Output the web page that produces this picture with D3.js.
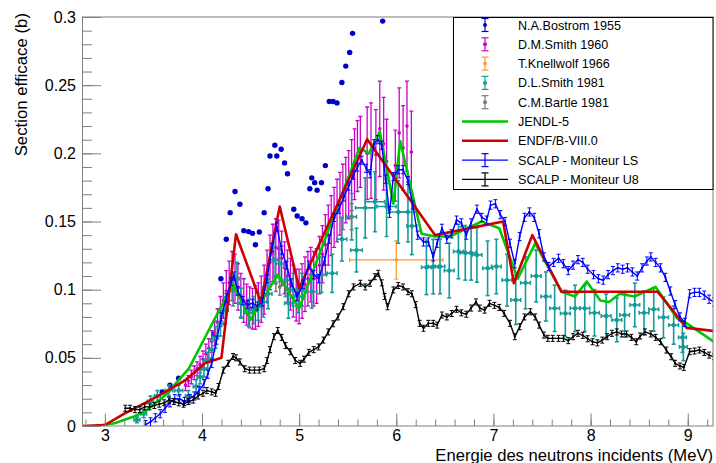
<!DOCTYPE html>
<html><head><meta charset="utf-8">
<script src="https://cdn.jsdelivr.net/npm/d3@7"></script>
<style>body{margin:0;background:#fff} text{font-family:"Liberation Sans",Arial,Helvetica,sans-serif}</style>
</head><body><svg id="c" width="716" height="463"></svg>
<script>
// ---------------- DATA ----------------
const seriesNames = ["N.A.Bostrom 1955","D.M.Smith 1960","T.Knellwolf 1966","D.L.Smith 1981","C.M.Bartle 1981","JENDL-5","ENDF/B-VIII.0","SCALP - Moniteur LS","SCALP - Moniteur U8"];
const xMajorTicks = [3,4,5,6,7,8,9];
const yMajorTicks = [0,0.05,0.1,0.15,0.2,0.25,0.3];

// [E (MeV), sigma (b)]
const bostrom = [[3.59,0.025],[3.67,0.030],[3.76,0.035],[4.12,0.0675],[4.195,0.108],[4.25,0.137],[4.29,0.1565],[4.34,0.172],[4.39,0.1626],[4.43,0.1433],[4.48,0.1426],[4.52,0.1413],[4.55,0.133],[4.59,0.1423],[4.64,0.1565],[4.68,0.174],[4.70,0.198],[4.75,0.206],[4.77,0.198],[4.815,0.203],[4.85,0.193],[4.88,0.185],[4.945,0.159],[4.98,0.154],[5.03,0.152],[5.07,0.149],[5.11,0.174],[5.13,0.182],[5.16,0.1785],[5.185,0.173],[5.23,0.1785],[5.27,0.191],[5.31,0.238],[5.35,0.238],[5.39,0.237],[5.44,0.252],[5.48,0.264],[5.52,0.274],[5.55,0.288],[5.86,0.297]];

// [E, sigma, dSigma]
const dmSmith = [[3.83,0.030,0.004],[3.86,0.033,0.004],[3.89,0.036,0.005],[3.92,0.039,0.005],[3.95,0.042,0.005],[3.98,0.045,0.006],[4.01,0.049,0.006],[4.04,0.053,0.007],[4.07,0.057,0.007],[4.10,0.062,0.008],[4.13,0.068,0.009],[4.16,0.076,0.010],[4.19,0.084,0.011],[4.22,0.092,0.013],[4.25,0.099,0.015],[4.28,0.105,0.016],[4.31,0.110,0.018],[4.34,0.108,0.018],[4.37,0.102,0.017],[4.40,0.096,0.016],[4.43,0.092,0.016],[4.46,0.089,0.015],[4.49,0.087,0.015],[4.52,0.086,0.015],[4.55,0.087,0.016],[4.58,0.089,0.016],[4.61,0.093,0.017],[4.64,0.100,0.018],[4.67,0.110,0.019],[4.70,0.120,0.020],[4.73,0.127,0.021],[4.76,0.131,0.021],[4.79,0.130,0.021],[4.82,0.123,0.020],[4.85,0.116,0.019],[4.88,0.110,0.019],[4.91,0.104,0.019],[4.94,0.099,0.019],[4.97,0.096,0.019],[5.00,0.095,0.020],[5.03,0.099,0.020],[5.06,0.104,0.020],[5.09,0.108,0.020],[5.12,0.111,0.020],[5.15,0.108,0.020],[5.18,0.110,0.020],[5.21,0.118,0.021],[5.24,0.126,0.021],[5.27,0.133,0.022],[5.30,0.140,0.022],[5.33,0.147,0.022],[5.36,0.153,0.022],[5.39,0.158,0.023],[5.42,0.163,0.023],[5.45,0.168,0.024],[5.48,0.173,0.024],[5.51,0.177,0.025],[5.54,0.184,0.026],[5.57,0.192,0.026],[5.60,0.198,0.026],[5.63,0.201,0.026],[5.70,0.200,0.034],[5.74,0.202,0.035],[5.79,0.199,0.033],[5.83,0.218,0.035],[5.87,0.207,0.034],[5.90,0.194,0.031],[5.99,0.191,0.026],[6.03,0.215,0.033],[6.07,0.204,0.031],[6.11,0.220,0.033],[6.155,0.201,0.030]];

// [E, sigma, dE, dSigma]
const knellwolf = [[6.0,0.1218,0.48,0.014]];

const dlSmith = [[3.33,0.0045,0.03,0.002],[3.40,0.009,0.03,0.003],[3.47,0.018,0.03,0.004],[3.54,0.022,0.03,0.004],[3.66,0.026,0.04,0.004],[3.76,0.026,0.04,0.004],[3.86,0.022,0.03,0.004],[3.94,0.029,0.03,0.005],[3.98,0.036,0.03,0.005],[4.02,0.042,0.03,0.006],[4.06,0.048,0.03,0.006],[4.10,0.056,0.03,0.007],[4.14,0.065,0.03,0.008],[4.19,0.075,0.03,0.009],[4.24,0.085,0.03,0.010],[4.32,0.100,0.03,0.012],[4.36,0.108,0.03,0.012],[4.40,0.090,0.03,0.011],[4.48,0.083,0.04,0.010],[4.53,0.085,0.04,0.010],[4.58,0.0875,0.04,0.010],[4.63,0.091,0.04,0.011],[4.68,0.097,0.04,0.011],[4.74,0.122,0.04,0.013],[4.80,0.119,0.04,0.013],[4.86,0.107,0.04,0.012],[4.89,0.090,0.04,0.011],[4.94,0.100,0.04,0.012],[4.99,0.095,0.04,0.012],[5.03,0.100,0.05,0.012],[5.13,0.0985,0.05,0.012],[5.23,0.111,0.05,0.013],[5.34,0.112,0.05,0.014],[5.44,0.137,0.05,0.016],[5.54,0.1535,0.05,0.017],[5.59,0.129,0.06,0.016],[5.68,0.160,0.10,0.022],[5.78,0.1645,0.10,0.022],[5.90,0.161,0.10,0.022],[6.02,0.157,0.10,0.023],[6.12,0.157,0.10,0.022],[6.16,0.1467,0.05,0.021],[6.31,0.1164,0.05,0.020],[6.38,0.1169,0.05,0.020],[6.45,0.117,0.05,0.020],[6.545,0.114,0.05,0.020],[6.64,0.128,0.05,0.020],[6.71,0.127,0.05,0.020],[6.77,0.127,0.05,0.020],[6.83,0.1255,0.05,0.020],[6.94,0.1157,0.05,0.020],[7.03,0.117,0.05,0.020],[7.14,0.107,0.05,0.019],[7.23,0.0924,0.05,0.018],[7.33,0.105,0.05,0.019],[7.44,0.110,0.05,0.019],[7.54,0.095,0.05,0.018],[7.63,0.0863,0.05,0.017],[7.74,0.0826,0.05,0.017],[7.84,0.0863,0.05,0.017],[7.94,0.0863,0.05,0.017],[8.04,0.083,0.05,0.017],[8.16,0.0807,0.05,0.016],[8.27,0.0778,0.05,0.016],[8.35,0.0814,0.05,0.016],[8.455,0.0888,0.05,0.016],[8.55,0.083,0.05,0.016],[8.65,0.0856,0.05,0.016],[8.75,0.0797,0.05,0.015],[8.855,0.074,0.05,0.014],[8.945,0.065,0.04,0.011],[8.955,0.058,0.04,0.010]];

// [E, sigma, dSigma]
const bartle = [[4.76,0.1047,0.006],[4.80,0.102,0.006],[5.54,0.1535,0.0095]];

// [E, sigma]
const jendl5 = [[2.90,0],[3.10,0.002],[3.30,0.007],[3.42,0.011],[3.625,0.0227],[3.866,0.0423],[4.088,0.0728],[4.20,0.088],[4.32,0.104],[4.50,0.078],[4.78,0.111],[5.00,0.086],[5.15,0.115],[5.62,0.204],[5.72,0.200],[5.83,0.216],[5.97,0.163],[6.04,0.209],[6.26,0.141],[6.40,0.139],[6.55,0.139],[6.88,0.150],[7.06,0.145],[7.25,0.108],[7.43,0.134],[7.70,0.0985],[7.84,0.095],[7.96,0.106],[8.10,0.092],[8.19,0.091],[8.30,0.097],[8.45,0.095],[8.67,0.102],[8.89,0.079],[8.99,0.0753],[9.27,0.0618]];

const endf8 = [[2.77,0],[3.00,0.0007],[3.21,0.0095],[3.416,0.0169],[3.62,0.0249],[3.83,0.0337],[4.03,0.046],[4.20,0.050],[4.35,0.1406],[4.606,0.0907],[4.80,0.161],[5.00,0.101],[5.70,0.2103],[6.40,0.140],[7.10,0.150],[7.21,0.1047],[7.40,0.140],[7.70,0.0985],[8.69,0.0985],[8.99,0.072],[9.27,0.0697]];

// [E, sigma]  (SCALP, small uncertainties)
const scalpLS = [[3.42,0.001],[3.47,0.003],[3.52,0.006],[3.57,0.009],[3.62,0.013],[3.67,0.017],[3.72,0.020],[3.77,0.020],[3.82,0.018],[3.87,0.020],[3.92,0.022],[3.97,0.026],[4.02,0.031],[4.06,0.038],[4.10,0.046],[4.15,0.063],[4.20,0.080],[4.25,0.094],[4.30,0.106],[4.33,0.110],[4.37,0.099],[4.42,0.092],[4.47,0.089],[4.52,0.090],[4.57,0.088],[4.62,0.091],[4.67,0.108],[4.72,0.131],[4.77,0.146],[4.82,0.129],[4.87,0.118],[4.92,0.105],[4.98,0.095],[5.04,0.104],[5.10,0.118],[5.15,0.111],[5.20,0.108],[5.26,0.121],[5.31,0.137],[5.36,0.153],[5.41,0.159],[5.46,0.168],[5.51,0.176],[5.56,0.184],[5.60,0.190],[5.645,0.195],[5.69,0.189],[5.73,0.185],[5.77,0.207],[5.81,0.210],[5.85,0.206],[5.89,0.181],[5.93,0.156],[5.97,0.183],[6.02,0.188],[6.07,0.188],[6.12,0.180],[6.17,0.162],[6.22,0.140],[6.28,0.135],[6.33,0.135],[6.38,0.124],[6.42,0.134],[6.47,0.145],[6.52,0.137],[6.57,0.141],[6.62,0.151],[6.67,0.149],[6.72,0.140],[6.77,0.149],[6.83,0.159],[6.88,0.153],[6.93,0.151],[6.97,0.162],[7.02,0.163],[7.07,0.155],[7.12,0.150],[7.17,0.134],[7.22,0.119],[7.27,0.139],[7.32,0.153],[7.37,0.157],[7.42,0.153],[7.47,0.141],[7.52,0.124],[7.57,0.117],[7.62,0.120],[7.67,0.123],[7.72,0.119],[7.77,0.114],[7.82,0.118],[7.87,0.122],[7.92,0.120],[7.97,0.115],[8.03,0.111],[8.08,0.108],[8.13,0.107],[8.18,0.111],[8.23,0.114],[8.28,0.116],[8.33,0.115],[8.38,0.116],[8.43,0.113],[8.48,0.110],[8.53,0.116],[8.58,0.121],[8.62,0.124],[8.67,0.120],[8.72,0.116],[8.77,0.109],[8.82,0.099],[8.87,0.089],[8.92,0.080],[8.97,0.076],[9.02,0.097],[9.07,0.098],[9.12,0.098],[9.17,0.096],[9.22,0.093],[9.27,0.091]];

const scalpU8 = [[3.21,0.013],[3.26,0.013],[3.31,0.012],[3.36,0.012],[3.41,0.014],[3.46,0.014],[3.51,0.015],[3.56,0.016],[3.61,0.017],[3.66,0.019],[3.71,0.018],[3.76,0.017],[3.81,0.016],[3.86,0.018],[3.91,0.019],[3.96,0.022],[4.01,0.024],[4.05,0.026],[4.10,0.025],[4.14,0.024],[4.17,0.029],[4.22,0.041],[4.27,0.046],[4.32,0.051],[4.35,0.050],[4.39,0.047],[4.44,0.042],[4.49,0.041],[4.54,0.041],[4.59,0.041],[4.64,0.042],[4.67,0.048],[4.70,0.056],[4.74,0.0655],[4.78,0.070],[4.82,0.065],[4.86,0.059],[4.91,0.0545],[4.96,0.048],[5.01,0.046],[5.05,0.049],[5.10,0.054],[5.15,0.056],[5.20,0.058],[5.25,0.063],[5.30,0.069],[5.35,0.075],[5.40,0.080],[5.455,0.0875],[5.51,0.097],[5.56,0.102],[5.63,0.1047],[5.68,0.102],[5.73,0.1047],[5.78,0.1095],[5.815,0.112],[5.85,0.105],[5.88,0.095],[5.91,0.0875],[5.97,0.0998],[6.02,0.103],[6.07,0.102],[6.12,0.0985],[6.16,0.097],[6.20,0.089],[6.24,0.0753],[6.28,0.0717],[6.33,0.0753],[6.38,0.0753],[6.42,0.074],[6.47,0.0814],[6.52,0.080],[6.57,0.0825],[6.62,0.0856],[6.67,0.083],[6.72,0.082],[6.77,0.0865],[6.82,0.091],[6.86,0.0865],[6.91,0.085],[6.96,0.090],[7.01,0.0885],[7.06,0.087],[7.11,0.0826],[7.17,0.0753],[7.22,0.0655],[7.27,0.0728],[7.32,0.080],[7.38,0.0838],[7.43,0.080],[7.47,0.074],[7.52,0.0667],[7.56,0.0643],[7.61,0.0643],[7.67,0.0643],[7.72,0.0643],[7.77,0.0626],[7.82,0.0655],[7.87,0.068],[7.92,0.0665],[7.97,0.064],[8.02,0.0618],[8.07,0.061],[8.12,0.063],[8.17,0.0655],[8.22,0.068],[8.27,0.069],[8.32,0.0675],[8.37,0.0675],[8.42,0.065],[8.47,0.0618],[8.51,0.066],[8.56,0.069],[8.62,0.0675],[8.67,0.065],[8.72,0.0618],[8.78,0.0557],[8.83,0.0508],[8.87,0.046],[8.92,0.044],[8.96,0.043],[9.02,0.0545],[9.07,0.055],[9.12,0.0557],[9.17,0.054],[9.22,0.052],[9.27,0.0508]];

// ---------------- STYLE ----------------
const col = {bostrom:"#0000cc", dm:"#cc00cc", kn:"#ff9933", dl:"#159a9a", ba:"#7a7a7a", jendl:"#00c800", endf:"#cc0000", ls:"#0000ff", u8:"#000000"};
const frameCol = "#7f7f7f";

const svg = d3.select("#c");
const X = d3.scaleLinear().domain([2.77,9.26]).range([82.5,713]);
const Y = d3.scaleLinear().domain([0,0.3]).range([426,17]);

svg.append("rect").attr("width",716).attr("height",463).attr("fill","#fff");
svg.append("defs").append("clipPath").attr("id","clip").append("rect")
  .attr("x",82.5).attr("y",17).attr("width",630.5).attr("height",409);
const plot = svg.append("g").attr("clip-path","url(#clip)");

function errPoints(g, data, o){
  const gg = g.append("g").attr("stroke",o.color).attr("fill",o.color).attr("stroke-width",o.lw);
  data.forEach(d=>{
    const e=d[0], s=d[1];
    const ye = o.yerr ? o.yerr(d) : 0, xe = o.xerr ? o.xerr(d) : 0;
    const cx=X(e), cy=Y(s);
    if(ye>0){
      const y1=Y(s-ye), y2=Y(s+ye);
      gg.append("line").attr("x1",cx).attr("x2",cx).attr("y1",y1).attr("y2",y2);
      if(o.cap){
        gg.append("line").attr("x1",cx-o.cap).attr("x2",cx+o.cap).attr("y1",y1).attr("y2",y1);
        gg.append("line").attr("x1",cx-o.cap).attr("x2",cx+o.cap).attr("y1",y2).attr("y2",y2);
      }
    }
    if(xe>0){
      const x1=X(e-xe), x2=X(e+xe);
      gg.append("line").attr("x1",x1).attr("x2",x2).attr("y1",cy).attr("y2",cy);
      if(o.cap){
        gg.append("line").attr("x1",x1).attr("x2",x1).attr("y1",cy-o.cap).attr("y2",cy+o.cap);
        gg.append("line").attr("x1",x2).attr("x2",x2).attr("y1",cy-o.cap).attr("y2",cy+o.cap);
      }
    }
    if(o.r) gg.append("circle").attr("cx",cx).attr("cy",cy).attr("r",o.r).attr("stroke","none");
  });
}
const line = d3.line().x(d=>X(d[0])).y(d=>Y(d[1]));

// Bostrom dots
plot.append("g").selectAll("circle").data(bostrom).join("circle")
  .attr("cx",d=>X(d[0])).attr("cy",d=>Y(d[1])).attr("r",2.7).attr("fill",col.bostrom);
// D.M.Smith
errPoints(plot, dmSmith, {color:col.dm, lw:1.3, cap:2, r:1.8, yerr:d=>d[2]});
// Knellwolf
errPoints(plot, knellwolf, {color:col.kn, lw:1.3, cap:2, r:1.8, xerr:d=>d[2], yerr:d=>d[3]});
// D.L.Smith
errPoints(plot, dlSmith, {color:col.dl, lw:1.6, cap:2, r:2.2, xerr:d=>d[2], yerr:d=>d[3]});
// Bartle
errPoints(plot, bartle, {color:col.ba, lw:1.5, cap:2, r:2, yerr:d=>d[2]});
// evaluations
plot.append("path").datum(jendl5).attr("d",line).attr("fill","none").attr("stroke",col.jendl).attr("stroke-width",2.6).attr("stroke-linejoin","round");
plot.append("path").datum(endf8).attr("d",line).attr("fill","none").attr("stroke",col.endf).attr("stroke-width",2.6).attr("stroke-linejoin","round");
// SCALP
plot.append("path").datum(scalpLS).attr("d",line).attr("fill","none").attr("stroke",col.ls).attr("stroke-width",1.4);
errPoints(plot, scalpLS, {color:col.ls, lw:1, cap:2, r:1.1, yerr:d=>0.003});
plot.append("path").datum(scalpU8).attr("d",line).attr("fill","none").attr("stroke",col.u8).attr("stroke-width",1.4);
errPoints(plot, scalpU8, {color:col.u8, lw:1, cap:2, r:1.1, yerr:d=>0.0022});

// ---------------- AXES ----------------
const axG = svg.append("g");
const xMinor = d3.range(28, 93, 2).map(v=>v/10);
const yMinor = d3.range(0, 31, 1).map(v=>v/100);
const gxm = axG.append("g").attr("transform","translate(0,426)")
  .call(d3.axisBottom(X).tickValues(xMinor).tickSize(-6.5).tickFormat(""));
const gx = axG.append("g").attr("transform","translate(0,426)")
  .call(d3.axisBottom(X).tickValues(xMajorTicks).tickSize(-12.5).tickPadding(4).tickFormat(d3.format("d")));
const gym = axG.append("g").attr("transform","translate(82.5,0)")
  .call(d3.axisLeft(Y).tickValues(yMinor).tickSize(-9.5).tickFormat(""));
const gy = axG.append("g").attr("transform","translate(82.5,0)")
  .call(d3.axisLeft(Y).tickValues(yMajorTicks).tickSize(-18.5).tickPadding(6.5).tickFormat(d=>String(+d.toFixed(2))));
[gxm,gx,gym,gy].forEach(g=>{
  g.select(".domain").remove();
  g.selectAll("line").attr("stroke",frameCol);
  g.selectAll("text").attr("font-size",16).attr("fill","#000").attr("font-family",'"Liberation Sans",Arial,sans-serif');
});
// frame
svg.append("rect").attr("x",82.5).attr("y",17).attr("width",630.5).attr("height",409)
  .attr("fill","none").attr("stroke",frameCol).attr("stroke-width",1);

// titles
svg.append("text").attr("x",713).attr("y",460.5).attr("text-anchor","end").attr("font-size",16.6)
  .text("Energie des neutrons incidents (MeV)");
svg.append("text").attr("transform","translate(26.5,13) rotate(-90)").attr("text-anchor","end").attr("font-size",16.8)
  .text("Section efficace (b)");

// ---------------- LEGEND ----------------
const leg = svg.append("g");
leg.append("rect").attr("x",453.5).attr("y",17.5).attr("width",259.5).attr("height",172)
  .attr("fill","#fff").attr("stroke","#000").attr("stroke-width",1);
const rowY = d3.range(seriesNames.length).map(i=>25+i*19.3);
const legKinds = [
  {c:col.bostrom, type:"pt"},{c:col.dm, type:"pt"},{c:col.kn, type:"pt"},{c:col.dl, type:"pt"},{c:col.ba, type:"pt"},
  {c:col.jendl, type:"ln", w:2.6},{c:col.endf, type:"ln", w:2.6},{c:col.ls, type:"lnerr", w:1.4},{c:col.u8, type:"lnerr", w:1.4}
];
seriesNames.forEach((name,i)=>{
  const y=rowY[i], k=legKinds[i], cx=485;
  const g=leg.append("g").attr("stroke",k.c).attr("fill",k.c);
  if(k.type!=="ln"){
    g.append("line").attr("x1",cx).attr("x2",cx).attr("y1",y-6.5).attr("y2",y+6.5).attr("stroke-width",1.2);
    g.append("line").attr("x1",cx-3.5).attr("x2",cx+3.5).attr("y1",y-6.5).attr("y2",y-6.5).attr("stroke-width",1.2);
    g.append("line").attr("x1",cx-3.5).attr("x2",cx+3.5).attr("y1",y+6.5).attr("y2",y+6.5).attr("stroke-width",1.2);
  }
  if(k.type==="pt") g.append("circle").attr("cx",cx).attr("cy",y).attr("r",2).attr("stroke","none");
  if(k.type!=="pt") g.append("line").attr("x1",462).attr("x2",508).attr("y1",y).attr("y2",y).attr("stroke-width",k.w);
  leg.append("text").attr("x",518).attr("y",y).attr("dy","0.36em").attr("font-size",12.6).attr("fill","#000").text(name);
});
</script>
</body></html>
